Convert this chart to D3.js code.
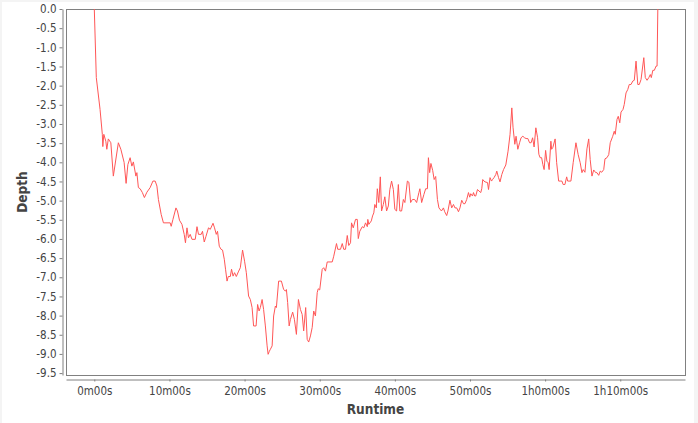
<!DOCTYPE html>
<html>
<head>
<meta charset="utf-8">
<script src="https://cdn.jsdelivr.net/npm/d3@7"></script>
<style>
  html, body { margin: 0; padding: 0; background: #f4f4f4; }
  text { font-family: "DejaVu Sans Condensed", "DejaVu Sans", sans-serif; }
</style>
</head>
<body>
<script>
// dive profile: runtime in seconds, depth in metres
var runtime = [
    0, 16, 46, 64, 68, 76, 92, 100, 112, 132,
    152, 192, 212, 238, 254, 268, 286, 300, 312, 332,
    340, 352, 366, 384, 400, 420, 446, 468, 486, 500,
    512, 534, 552, 606, 614, 628, 652, 664, 680, 700,
    718, 728, 740, 752, 766, 780, 806, 820, 832, 854,
    864, 878, 892, 912, 926, 948, 960, 974, 984, 998,
    1012, 1024, 1038, 1048, 1060, 1070, 1086, 1096, 1108, 1120,
    1134, 1150, 1166, 1184, 1200, 1214, 1232, 1246, 1260, 1272,
    1292, 1304, 1316, 1326, 1340, 1352, 1366, 1380, 1388, 1398,
    1406, 1420, 1432, 1446, 1454, 1472, 1494, 1512, 1526, 1534,
    1544, 1556, 1566, 1584, 1598, 1614, 1630, 1646, 1660, 1672,
    1688, 1700, 1712, 1726, 1740, 1752, 1766, 1780, 1788, 1800,
    1820, 1832, 1846, 1860, 1900, 1912, 1934, 1944, 1966, 1980,
    1992, 2006, 2020, 2032, 2046, 2054, 2068, 2086, 2100, 2108,
    2120, 2140, 2152, 2166, 2180, 2184, 2192, 2212, 2222, 2232,
    2240, 2252, 2260, 2272, 2284, 2294, 2308, 2320, 2334, 2348,
    2360, 2374, 2388, 2400, 2414, 2428, 2440, 2454, 2468, 2480,
    2500, 2512, 2526, 2540, 2558, 2574, 2592, 2600, 2614, 2632,
    2646, 2660, 2668, 2678, 2688, 2702, 2714, 2726, 2740, 2752,
    2772, 2788, 2798, 2814, 2824, 2840, 2854, 2868, 2880, 2894,
    2908, 2920, 2934, 2948, 2960, 2974, 2988, 2998, 3006, 3020,
    3028, 3038, 3046, 3060, 3072, 3086, 3094, 3102, 3112, 3120,
    3140, 3148, 3160, 3172, 3180, 3192, 3206, 3214, 3228, 3240,
    3254, 3268, 3286, 3304, 3320, 3334, 3344, 3358, 3368, 3382,
    3396, 3408, 3422, 3436, 3448, 3462, 3476, 3488, 3500, 3512,
    3526, 3540, 3550, 3560, 3572, 3582, 3592, 3604, 3614, 3624,
    3632, 3646, 3652, 3662, 3680, 3692, 3708, 3720, 3734, 3744,
    3758, 3772, 3780, 3806, 3824, 3846, 3864, 3880, 3894, 3904,
    3918, 3934, 3948, 3960, 3974, 3988, 4004, 4014, 4028, 4040,
    4052, 4068, 4078, 4094, 4108, 4120, 4140, 4152, 4160, 4174,
    4184, 4196, 4206, 4222, 4232, 4246, 4260, 4272, 4286, 4300,
    4312, 4326, 4340, 4352, 4366, 4388, 4400, 4414, 4428, 4440,
    4448, 4460, 4472, 4486, 4494, 4500
];

var depth = [
    0, -1.79, -2.62, -3.27, -3.59, -3.27, -3.45, -3.66, -3.39, -3.49,
    -4.36, -3.49, -3.66, -4.00, -4.55, -4.06, -3.88, -4.10, -3.99, -4.36,
    -4.27, -4.66, -4.69, -4.79, -4.92, -4.78, -4.66, -4.49, -4.49, -4.62,
    -4.97, -5.36, -5.58, -5.58, -5.67, -5.49, -5.19, -5.27, -5.51, -5.62,
    -5.88, -6.10, -5.71, -5.97, -5.88, -6.01, -6.01, -5.68, -5.88, -5.88,
    -5.80, -6.08, -5.93, -5.71, -5.75, -5.59, -5.71, -5.88, -5.80, -6.19,
    -6.27, -6.29, -6.53, -6.79, -7.10, -6.98, -6.98, -6.79, -6.97, -6.88,
    -6.98, -6.86, -6.75, -6.29, -6.58, -6.88, -7.49, -7.58, -7.79, -8.27,
    -8.27, -7.71, -7.88, -7.79, -7.58, -7.84, -8.27, -8.79, -9.01, -8.93,
    -8.88, -8.79, -8.01, -7.75, -7.79, -7.10, -7.10, -7.32, -7.36, -7.32,
    -7.66, -8.27, -8.10, -7.91, -8.10, -8.49, -7.58, -7.84, -7.97, -8.40,
    -7.79, -8.62, -8.69, -8.53, -8.31, -7.88, -8.01, -7.40, -7.30, -7.33,
    -6.79, -6.75, -6.84, -6.60, -6.60, -6.45, -6.12, -6.27, -6.27, -6.12,
    -6.27, -6.27, -5.91, -6.17, -6.10, -5.58, -5.71, -5.49, -5.49, -5.99,
    -5.80, -5.68, -5.71, -5.58, -5.68, -5.49, -5.62, -5.53, -5.40, -5.32,
    -5.10, -5.19, -4.69, -5.05, -4.38, -5.27, -5.10, -4.90, -5.27, -5.14,
    -4.71, -4.49, -4.71, -5.23, -5.27, -4.58, -5.27, -5.27, -4.97, -5.05,
    -4.49, -4.52, -5.05, -4.97, -4.97, -5.05, -4.79, -4.69, -5.05, -4.84,
    -4.69, -4.69, -3.88, -4.27, -4.03, -4.21, -4.45, -4.37, -4.97, -5.19,
    -5.27, -5.19, -5.29, -5.39, -5.27, -4.99, -5.19, -5.10, -5.19, -5.19,
    -5.29, -5.19, -4.99, -5.08, -5.08, -4.97, -4.79, -4.91, -4.82, -4.88,
    -4.79, -4.88, -4.88, -4.71, -4.75, -4.79, -4.69, -4.45, -4.49, -4.51,
    -4.53, -4.71, -4.40, -4.49, -4.45, -4.40, -4.32, -4.23, -4.40, -4.51,
    -4.32, -4.19, -4.07, -3.71, -3.27, -2.58, -3.10, -3.53, -3.32, -3.66,
    -3.49, -3.36, -3.32, -3.36, -3.38, -3.38, -3.49, -3.49, -3.36, -3.60,
    -3.10, -3.36, -3.79, -3.88, -3.88, -4.06, -4.19, -3.69, -3.97, -4.01,
    -4.19, -3.45, -3.66, -3.61, -3.39, -4.01, -4.49, -4.49, -4.49, -4.58,
    -4.58, -4.38, -4.49, -4.49, -4.01, -3.49, -3.80, -4.01, -4.27, -4.19,
    -4.26, -3.65, -3.39, -3.93, -4.36, -4.20, -4.27, -4.27, -4.34, -4.23,
    -4.26, -4.19, -3.91, -3.88, -3.80, -3.49, -3.32, -3.19, -3.27, -2.88,
    -2.80, -2.97, -2.69, -2.62, -2.49, -2.19, -2.10, -1.97, -1.97, -1.88,
    -1.86, -1.36, -1.97, -1.97, -1.84, -1.27, -1.79, -1.86, -1.79, -1.71,
    -1.79, -1.60, -1.60, -1.49, -1.49, 0
];

var xTicks = [0, 600, 1200, 1800, 2400, 3000, 3600, 4200];
var yTicks = [0, -0.5, -1, -1.5, -2, -2.5, -3, -3.5, -4, -4.5, -5,
              -5.5, -6, -6.5, -7, -7.5, -8, -8.5, -9, -9.5];

if (runtime.length !== depth.length) {
    throw new Error("runtime/depth length mismatch " + runtime.length + " vs " + depth.length);
}

var DATA = [];
for (var i = 0; i < runtime.length; i++) {
    DATA.push({t: runtime[i], d: depth[i]});
}

var W = 698, H = 423;
var plot = {left: 66, top: 9, right: 685, bottom: 375};

var xScale = d3.scaleLinear().domain([-226, 4717]).range([plot.left, plot.right]);
var yScale = d3.scaleLinear().domain([0, -9.55]).range([plot.top, plot.bottom]);

function fmtTime(s) {
    var h = Math.floor(s / 3600);
    var m = Math.floor((s % 3600) / 60);
    var sec = s % 60;
    var ss = (sec < 10 ? "0" : "") + sec;
    return (h > 0 ? h + "h" : "") + m + "m" + ss + "s";
}

var svg = d3.select("body").append("svg")
    .attr("width", W)
    .attr("height", H)
    .style("display", "block");

// panel
svg.append("rect").attr("x", 0).attr("y", 0).attr("width", W).attr("height", H).attr("fill", "#f4f4f4");
svg.append("rect").attr("x", 2).attr("y", 2).attr("width", 692).attr("height", H - 2).attr("fill", "#ffffff");

// plot area
svg.append("rect")
    .attr("x", plot.left + 0.5)
    .attr("y", plot.top + 0.5)
    .attr("width", plot.right - plot.left)
    .attr("height", plot.bottom - plot.top)
    .attr("fill", "#ffffff")
    .attr("stroke", "#808080")
    .attr("stroke-width", 1);

svg.append("clipPath").attr("id", "clip")
    .append("rect")
    .attr("x", plot.left)
    .attr("y", plot.top)
    .attr("width", plot.right - plot.left)
    .attr("height", plot.bottom - plot.top);

var line = d3.line()
    .x(function (d) { return xScale(d.t); })
    .y(function (d) { return yScale(d.d); });

svg.append("path")
    .datum(DATA)
    .attr("clip-path", "url(#clip)")
    .attr("fill", "none")
    .attr("stroke", "#ff5656")
    .attr("stroke-width", 1)
    .attr("stroke-linejoin", "round")
    .attr("d", line);

// x axis (offset below the plot)
var xAxis = svg.append("g")
    .attr("transform", "translate(0," + (plot.bottom + 4.5) + ")")
    .call(d3.axisBottom(xScale).tickValues(xTicks).tickFormat(fmtTime).tickSize(2).tickSizeOuter(0));

// y axis (offset left of the plot)
var yAxis = svg.append("g")
    .attr("transform", "translate(" + (plot.left - 3.5) + ",0)")
    .call(d3.axisLeft(yScale).tickValues(yTicks)
        .tickFormat(function (v) { return v.toFixed(1); })
        .tickSize(3).tickSizeOuter(0).tickPadding(3));

[xAxis, yAxis].forEach(function (g) {
    g.select(".domain").attr("stroke", "#808080");
    g.selectAll(".tick line").attr("stroke", "#808080");
    g.selectAll(".tick text")
        .attr("fill", "#444444")
        .style("font-size", "11.5px")
        .style("font-family", "'DejaVu Sans Condensed', 'DejaVu Sans', sans-serif");
});
xAxis.selectAll(".tick text").attr("dy", "0.95em");

// axis titles
svg.append("text")
    .attr("x", (plot.left + plot.right) / 2)
    .attr("y", 414)
    .attr("text-anchor", "middle")
    .attr("fill", "#444444")
    .style("font-size", "13.5px")
    .style("font-weight", "bold")
    .text("Runtime");

svg.append("text")
    .attr("transform", "translate(27," + ((plot.top + plot.bottom) / 2) + ") rotate(-90)")
    .attr("text-anchor", "middle")
    .attr("fill", "#444444")
    .style("font-size", "13.5px")
    .style("font-weight", "bold")
    .text("Depth");
</script>
</body>
</html>
